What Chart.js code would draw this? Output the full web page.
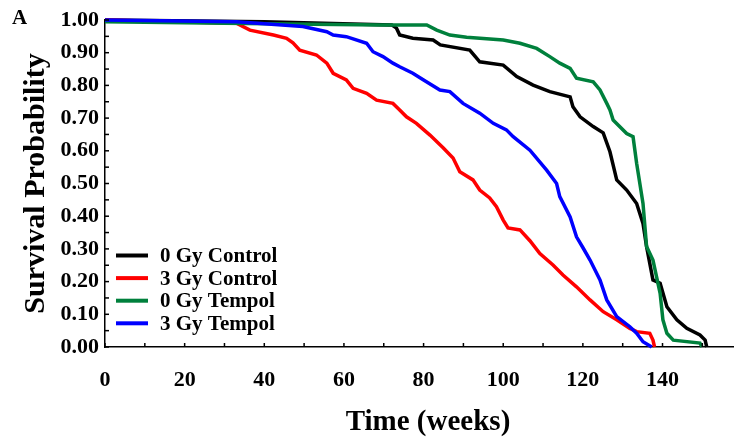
<!DOCTYPE html>
<html>
<head>
<meta charset="utf-8">
<script src="https://cdn.jsdelivr.net/npm/chart.js@4/dist/chart.umd.min.js"></script>
<style>
  html, body { margin: 0; padding: 0; background: #fff; }
  #wrap { width: 734px; height: 439px; }
</style>
</head>
<body>
<div id="wrap"><canvas id="survChart" width="734" height="439"></canvas></div>
<script>
//------Data------

const seriesLabels = ['0 Gy Control', '3 Gy Control', '0 Gy Tempol', '3 Gy Tempol'];
const seriesColors = ['#000000', '#ff0000', '#00803c', '#0000ff'];

// 0 Gy Control
const ctrl0Weeks = [0, 40, 72, 73.2, 74, 77.3, 82.4, 84.2, 91.6, 94.1, 100, 103.4, 107.5, 111.7, 116.8, 117.5, 119.3, 122.6, 125.1, 126.8, 128.5, 131, 133.5, 135.1, 136, 137.6, 139.4, 141.1, 143.6, 146.1, 149.4, 150.7, 151.1];
const ctrl0Surv  = [1.0, 0.995, 0.985, 0.975, 0.954, 0.944, 0.939, 0.924, 0.908, 0.872, 0.862, 0.827, 0.801, 0.781, 0.765, 0.735, 0.704, 0.674, 0.655, 0.597, 0.511, 0.480, 0.439, 0.378, 0.307, 0.205, 0.195, 0.123, 0.083, 0.057, 0.037, 0.021, 0.0];

// 3 Gy Control
const ctrl3Weeks = [0, 33, 36.4, 42.3, 45.6, 47.2, 48.9, 53.1, 55.7, 57.3, 60.6, 62.3, 65.7, 68.2, 72.3, 74, 75.7, 78.2, 81.6, 84.9, 87.4, 89.1, 92.4, 94.1, 96.6, 98.3, 100, 101.2, 104.2, 106.7, 109.2, 112.5, 115, 118.4, 121.8, 125.1, 128.5, 131.8, 133.5, 136.8, 137.6, 138];
const ctrl3Surv  = [1.0, 0.99, 0.969, 0.954, 0.944, 0.93, 0.908, 0.893, 0.868, 0.837, 0.817, 0.791, 0.776, 0.755, 0.745, 0.725, 0.704, 0.684, 0.648, 0.609, 0.578, 0.536, 0.511, 0.480, 0.456, 0.429, 0.388, 0.364, 0.358, 0.325, 0.286, 0.251, 0.220, 0.184, 0.144, 0.108, 0.083, 0.057, 0.047, 0.042, 0.021, 0.0];

// 0 Gy Tempol
const temp0Weeks = [0, 30, 69, 80.8, 83.3, 86.6, 90.8, 100, 104.2, 108.4, 111.7, 114.2, 116.8, 118.4, 122.6, 124.3, 126, 126.8, 127.6, 131, 132.6, 133.5, 135.1, 136, 137.6, 139.4, 140.1, 141.1, 142.7, 149.4, 149.9];
const temp0Surv  = [0.995, 0.99, 0.985, 0.985, 0.969, 0.954, 0.947, 0.939, 0.929, 0.913, 0.888, 0.868, 0.852, 0.822, 0.811, 0.786, 0.745, 0.725, 0.694, 0.653, 0.643, 0.562, 0.439, 0.307, 0.266, 0.164, 0.083, 0.042, 0.021, 0.012, 0.0];

// 3 Gy Tempol
const temp3Weeks = [0, 33, 49.7, 55.7, 57.3, 60.6, 65.7, 67.3, 69.8, 72.3, 74, 77.3, 79.9, 84.1, 86.6, 89.9, 94.1, 97.5, 100.8, 102.5, 106.7, 110.9, 113.4, 114.2, 116.8, 118.4, 120.1, 121.8, 124.3, 126, 128.5, 131.8, 133.5, 135.1, 137.3];
const temp3Surv  = [1.0, 0.995, 0.98, 0.964, 0.954, 0.949, 0.929, 0.903, 0.888, 0.868, 0.857, 0.837, 0.817, 0.786, 0.781, 0.745, 0.715, 0.684, 0.664, 0.643, 0.602, 0.541, 0.500, 0.460, 0.398, 0.337, 0.302, 0.266, 0.205, 0.144, 0.093, 0.062, 0.042, 0.016, 0.0];

const xTickStep = 10;   // minor ticks, labelled every 20
const yTickStep = 0.05; // minor ticks, labelled every 0.10
//----------------


function toPoints(weeks, surv) {
  return weeks.map((w, i) => ({ x: w, y: surv[i] }));
}

const allSeries = [
  toPoints(ctrl0Weeks, ctrl0Surv),
  toPoints(ctrl3Weeks, ctrl3Surv),
  toPoints(temp0Weeks, temp0Surv),
  toPoints(temp3Weeks, temp3Surv)
];
// later series sit on top, as in the original figure
const drawOrder = [4, 3, 2, 1];

const FONT = "'Liberation Serif', 'Times New Roman', serif";

//---Inside ticks, legend, titles---
const extrasPlugin = {
  id: 'extras',
  afterDraw(chart) {
    const ctx = chart.ctx;
    const xs = chart.scales.x;
    const ys = chart.scales.y;
    const area = chart.chartArea;

    ctx.save();
    ctx.strokeStyle = '#000';
    ctx.lineWidth = 1.5;
    xs.ticks.forEach((t) => {
      const px = xs.getPixelForValue(t.value);
      ctx.beginPath();
      ctx.moveTo(px, area.bottom);
      ctx.lineTo(px, area.bottom - 4);
      ctx.stroke();
    });
    ys.ticks.forEach((t) => {
      const py = ys.getPixelForValue(t.value);
      ctx.beginPath();
      ctx.moveTo(area.left, py);
      ctx.lineTo(area.left + 4, py);
      ctx.stroke();
    });

    // legend
    ctx.font = 'bold 21px ' + FONT;
    ctx.textBaseline = 'middle';
    ctx.textAlign = 'left';
    chart.data.datasets.forEach((ds, i) => {
      const y = 255.5 + i * 22.6;
      ctx.strokeStyle = ds.borderColor;
      ctx.lineWidth = 4;
      ctx.beginPath();
      ctx.moveTo(116, y);
      ctx.lineTo(148, y);
      ctx.stroke();
      ctx.fillStyle = '#000';
      ctx.fillText(ds.label, 160, y + 1);
    });

    // x title
    ctx.font = 'bold 29px ' + FONT;
    ctx.textAlign = 'center';
    ctx.textBaseline = 'alphabetic';
    ctx.fillText('Time (weeks)', 428, 430);

    // panel letter
    ctx.font = 'bold 21px ' + FONT;
    ctx.textAlign = 'left';
    ctx.fillText('A', 12, 24);
    ctx.restore();
  }
};

new Chart(document.getElementById('survChart'), {
  type: 'line',
  data: {
    datasets: allSeries.map((pts, i) => ({
      label: seriesLabels[i],
      data: pts,
      order: drawOrder[i],
      borderColor: seriesColors[i],
      backgroundColor: seriesColors[i],
      borderWidth: 3.5,
      pointRadius: 0,
      tension: 0,
      fill: false,
      clip: false
    }))
  },
  options: {
    responsive: false,
    animation: false,
    devicePixelRatio: 1,
    layout: { padding: { left: 0, right: 1, top: 20, bottom: 0 } },
    plugins: {
      legend: { display: false },
      tooltip: { enabled: false }
    },
    scales: {
      x: {
        type: 'linear',
        min: 0,
        max: 157.7,
        border: { display: true, color: '#000', width: 1.5 },
        grid: { display: true, drawOnChartArea: false, drawTicks: false },
        ticks: {
          stepSize: xTickStep,
          includeBounds: false,
          autoSkip: false,
          maxRotation: 0,
          padding: 20,
          color: '#000',
          font: { family: FONT, weight: 'bold', size: 22 },
          callback: (v) => (Math.round(v) % 20 === 0 ? String(Math.round(v)) : '')
        },
        afterFit: (scale) => { scale.height = 92; }
      },
      y: {
        min: 0,
        max: 1,
        border: { display: true, color: '#000', width: 1.5 },
        grid: { display: true, drawOnChartArea: false, drawTicks: false },
        ticks: {
          stepSize: yTickStep,
          autoSkip: false,
          padding: 6,
          color: '#000',
          font: { family: FONT, weight: 'bold', size: 22 },
          callback: (v) => (Math.round(v * 100) % 10 === 0 ? v.toFixed(2) : '')
        },
        title: {
          display: true,
          text: 'Survival Probability',
          color: '#000',
          font: { family: FONT, weight: 'bold', size: 30, lineHeight: 1 },
          padding: { top: 21, bottom: 0 }
        },
        afterFit: (scale) => { scale.width = 105; }
      }
    }
  },
  plugins: [extrasPlugin]
});
</script>
</body>
</html>
